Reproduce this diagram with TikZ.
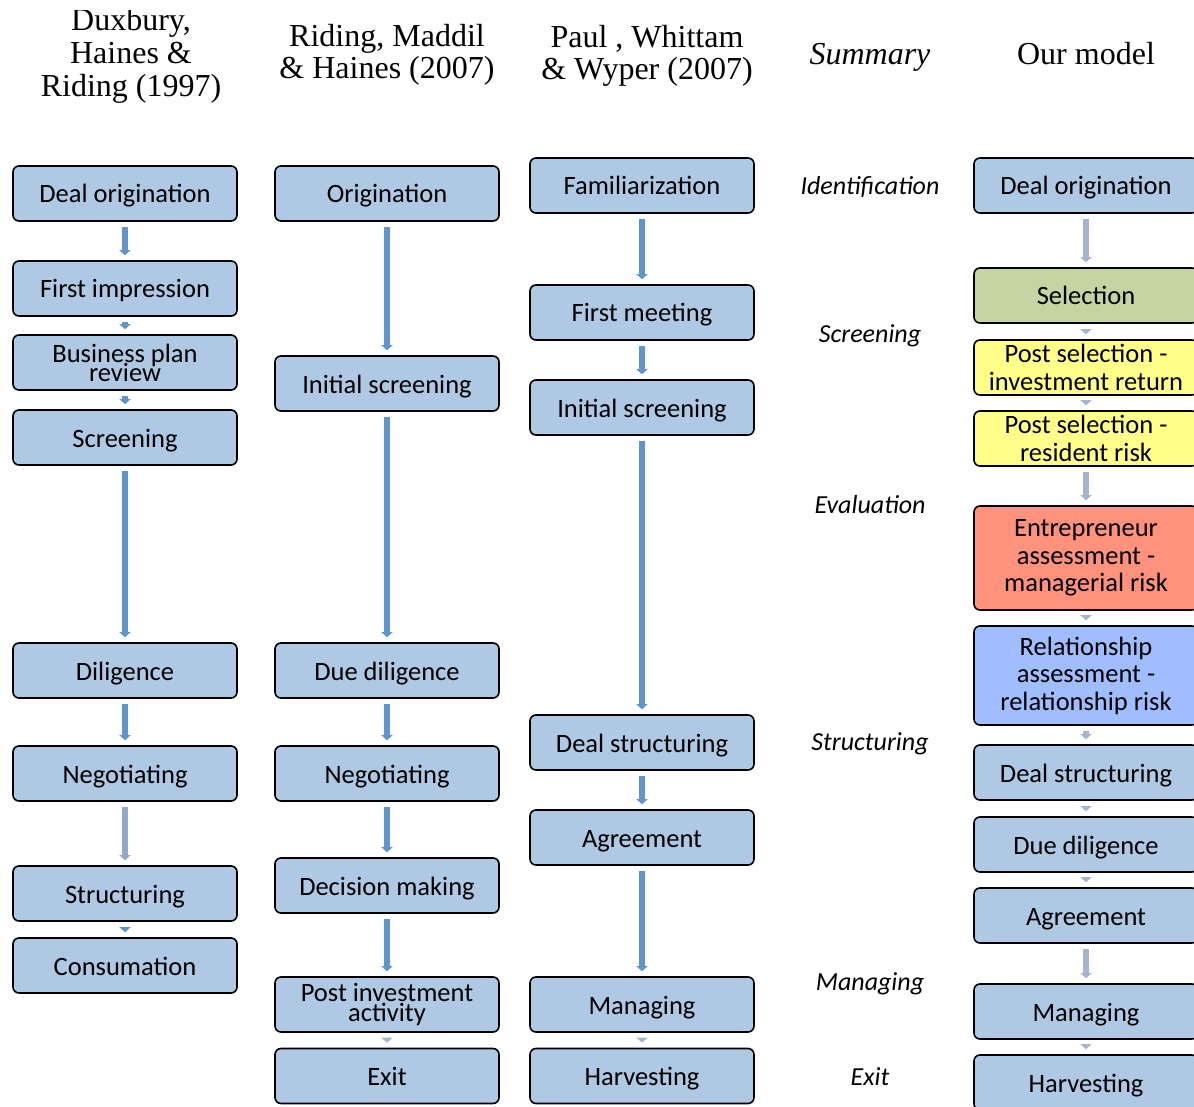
\documentclass[tikz,border=0pt]{standalone}
\usepackage{fontspec}
\setmainfont{Carlito}
\newfontfamily\hdrfont{Liberation Serif}
\usetikzlibrary{arrows.meta}

\definecolor{boxblue}{RGB}{175,201,228}
\definecolor{selgreen}{RGB}{196,212,162}
\definecolor{postyellow}{RGB}{255,255,138}
\definecolor{entred}{RGB}{255,146,124}
\definecolor{relblue}{RGB}{160,190,255}
\definecolor{arrblue}{RGB}{96,148,204}
\definecolor{arrgray}{RGB}{165,180,208}
\definecolor{arrmid}{RGB}{150,168,200}

\begin{document}
\begin{tikzpicture}[x=1pt,y=-1pt,
  stagebase/.style={draw=black, line width=1.6pt, rounded corners=6pt, fill=boxblue,
    minimum width=224pt, minimum height=55pt, inner sep=0pt, align=center,
    font=\fontsize{26.5}{27.5}\selectfont, text=black},
  stage/.style={stagebase, text height=19pt, text depth=0pt},
  stagetwo/.style={stagebase},
  flow/.style={draw=arrblue, line width=6pt, -{Triangle[width=11pt,length=5pt]},
    shorten <=5pt, shorten >=5pt},
  faint/.style={flow, draw=arrgray},
  midflow/.style={flow, draw=arrmid},
  hdr/.style={font=\hdrfont\fontsize{32}{33}\selectfont, anchor=base, inner sep=0pt},
  phase/.style={font=\itshape\fontsize{26}{27}\selectfont, anchor=base, inner sep=0pt}
]
\useasboundingbox (0,0) rectangle (1194,1107);
\fill[white] (0,0) rectangle (1194,1107);

% ---------- headers ----------
\begin{scope}
\clip (0,11) rectangle (260,40);
\node[hdr] (h1a) at (131,30.5) {Duxbury,};
\end{scope}
\node[hdr] (h1b) at (131,64) {Haines \&};
\node[hdr] (h1c) at (131,97) {Riding (1997)};
\node[hdr] (h2a) at (387,47) {Riding, Maddil};
\node[hdr] (h2b) at (387,79) {\& Haines (2007)};
\node[hdr] (h3a) at (647,48) {Paul , Whittam};
\node[hdr] (h3b) at (647,80) {\& Wyper (2007)};
\node[hdr, font=\hdrfont\itshape\fontsize{32}{33}\selectfont] (h4) at (870,65) {Summary};
\node[hdr] (h5) at (1086,65) {Our model};

% ---------- column 1 ----------
\node[stage] (d1) at (125,193.5) {Deal origination};
\node[stage] (d2) at (125,288.5) {First impression};
\node[stagetwo] (d3) at (125,362.5) {Business plan\\[-8.5pt]review};
\node[stage] (d4) at (125,437.5) {Screening};
\node[stage] (d5) at (125,670.5) {Diligence};
\node[stage] (d6) at (125,773.5) {Negotiating};
\node[stage] (d7) at (125,893.5) {Structuring};
\node[stage] (d8) at (125,965.5) {Consumation};

\draw[flow] (d1.south) -- (d2.north);
\draw[flow] (d2.south) -- (d3.north);
\draw[flow] (d3.south) -- (d4.north);
\draw[flow] (d4.south) -- (d5.north);
\draw[flow] (d5.south) -- (d6.north);
\draw[midflow] (d6.south) -- (d7.north);
\draw[flow] (d7.south) -- (d8.north);

% ---------- column 2 ----------
\node[stage] (r1) at (387,193.5) {Origination};
\node[stage] (r2) at (387,383.5) {Initial screening};
\node[stage] (r3) at (387,670.5) {Due diligence};
\node[stage] (r4) at (387,773.5) {Negotiating};
\node[stage] (r5) at (387,885.5) {Decision making};
\node[stagetwo] (r6) at (387,1004.5) {Post investment\\[-8pt]activity};
\node[stage] (r7) at (387,1076) {Exit};

\draw[flow] (r1.south) -- (r2.north);
\draw[flow] (r2.south) -- (r3.north);
\draw[flow] (r3.south) -- (r4.north);
\draw[flow] (r4.south) -- (r5.north);
\draw[flow] (r5.south) -- (r6.north);
\draw[faint] (r6.south) -- (r7.north);

% ---------- column 3 ----------
\node[stage] (p1) at (642,185.5) {Familiarization};
\node[stage] (p2) at (642,312.5) {First meeting};
\node[stage] (p3) at (642,407.5) {Initial screening};
\node[stage] (p4) at (642,742.5) {Deal structuring};
\node[stage] (p5) at (642,837.5) {Agreement};
\node[stage] (p6) at (642,1004.5) {Managing};
\node[stage] (p7) at (642,1076) {Harvesting};

\draw[flow] (p1.south) -- (p2.north);
\draw[flow] (p2.south) -- (p3.north);
\draw[flow] (p3.south) -- (p4.north);
\draw[flow] (p4.south) -- (p5.north);
\draw[flow] (p5.south) -- (p6.north);
\draw[faint] (p6.south) -- (p7.north);

% ---------- summary ----------
\node[phase] (s1) at (870,195) {Identification};
\node[phase] (s2) at (870,342) {Screening};
\node[phase] (s3) at (870,513) {Evaluation};
\node[phase] (s4) at (870,750) {Structuring};
\node[phase] (s5) at (870,990) {Managing};
\node[phase] (s6) at (870,1085) {Exit};

% ---------- our model ----------
\node[stage] (m1) at (1086,185.5) {Deal origination};
\node[stage, fill=selgreen] (m2) at (1086,295.5) {Selection};
\node[stagetwo, fill=postyellow] (m3) at (1086,367.5) {Post selection -\\investment return};
\node[stagetwo, fill=postyellow] (m4) at (1086,438.5) {Post selection -\\resident risk};
\node[stagetwo, fill=entred, minimum height=104pt] (m5) at (1086,558) {Entrepreneur\\assessment -\\managerial risk};
\node[stagetwo, fill=relblue, minimum height=99pt] (m6) at (1086,675.5) {Relationship\\assessment -\\relationship risk};
\node[stage] (m7) at (1086,772.5) {Deal structuring};
\node[stage] (m8) at (1086,844.5) {Due diligence};
\node[stage] (m9) at (1086,915.5) {Agreement};
\node[stage] (m10) at (1086,1011.5) {Managing};
\node[stage] (m11) at (1086,1082.5) {Harvesting};

\draw[faint] (m1.south) -- (m2.north);
\draw[faint] (m2.south) -- (m3.north);
\draw[faint] (m3.south) -- (m4.north);
\draw[faint] (m4.south) -- (m5.north);
\draw[faint] (m5.south) -- (m6.north);
\draw[faint] (m6.south) -- (m7.north);
\draw[faint] (m7.south) -- (m8.north);
\draw[faint] (m8.south) -- (m9.north);
\draw[faint] (m9.south) -- (m10.north);
\draw[faint] (m10.south) -- (m11.north);
\end{tikzpicture}
\end{document}
